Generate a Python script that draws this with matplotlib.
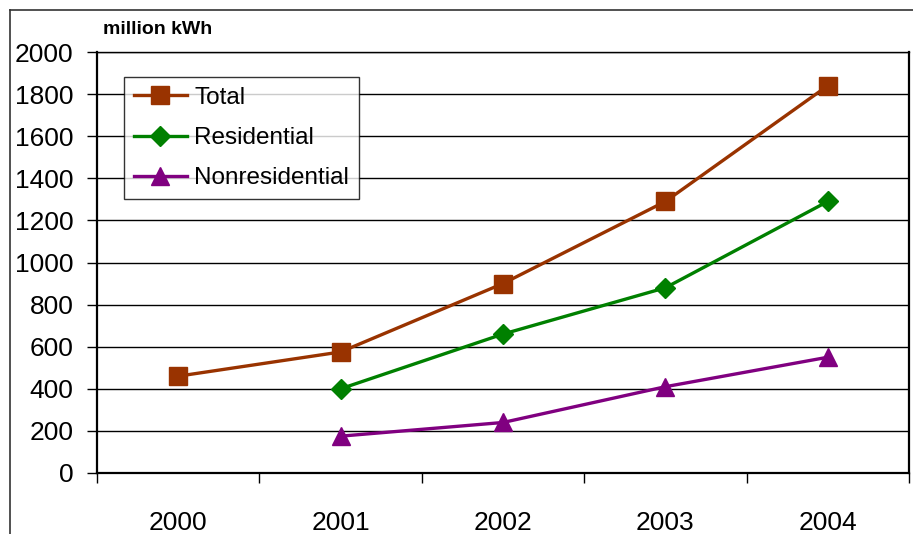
import numpy as np
import matplotlib
matplotlib.use('Agg')
import matplotlib.pyplot as plt
from matplotlib.lines import Line2D

plt.rcParams['font.family'] = ['Liberation Sans', 'DejaVu Sans']

# ─── DONNÉES ──────────────────────────────────────────────────────────────────
years = ['2000', '2001', '2002', '2003', '2004']
total = [460, 575, 900, 1290, 1840]
residential = [None, 400, 660, 880, 1290]
nonresidential = [None, 175, 240, 410, 550]

series = [
    ('Total', total, '#993300', 's', 13),
    ('Residential', residential, '#008000', 'D', 10),
    ('Nonresidential', nonresidential, '#800080', '^', 13),
]

# ─── FIGURE ───────────────────────────────────────────────────────────────────
fig = plt.figure(figsize=(9.13, 5.34), dpi=100)
ax = fig.add_axes([97 / 913, 1 - 473 / 534, 812 / 913, 421 / 534])

x = np.arange(len(years))
for name, vals, color, marker, ms in series:
    v = np.array([np.nan if a is None else a for a in vals], dtype=float)
    ax.plot(x, v, color=color, lw=2.4, marker=marker, markersize=ms,
            markerfacecolor=color, markeredgecolor=color, label=name,
            zorder=3)

ax.set_xlim(-0.5, len(years) - 0.5)
ax.set_ylim(0, 2000)
ax.set_yticks(np.arange(0, 2001, 200))
ax.yaxis.grid(True, color='black', lw=1.0)
ax.set_axisbelow(True)

ax.set_xticks(x)
ax.set_xticklabels(years)
ax.set_xticks(np.arange(-0.5, len(years), 1.0), minor=True)
ax.tick_params(axis='x', which='major', length=0, pad=27, labelsize=19)
ax.tick_params(axis='x', which='minor', length=7, width=1.0, direction='out')
ax.tick_params(axis='y', length=7, width=1.0, direction='out', pad=10,
               labelsize=19)

for side in ['left', 'bottom', 'right']:
    ax.spines[side].set_linewidth(1.6)
    ax.spines[side].set_color('black')
ax.spines['top'].set_linewidth(1.0)
ax.spines['top'].set_color('black')

leg = ax.legend(loc='upper left', bbox_to_anchor=(0.033, 0.94), fontsize=17.5,
                frameon=True, fancybox=False, edgecolor='black',
                borderpad=0.4, labelspacing=0.75, handlelength=2.2,
                handletextpad=0.3, borderaxespad=0)
leg.get_frame().set_linewidth(1.0)

fig.text(103 / 913, 1 - 29 / 534, 'million kWh', fontsize=14,
         fontweight='bold', ha='left', va='center')

# cadre extérieur (coupé à droite et en bas)
fig.add_artist(Line2D([10 / 913, 1.0], [1 - 10 / 534] * 2, color='#333333',
                      lw=1.2, transform=fig.transFigure))
fig.add_artist(Line2D([10 / 913] * 2, [0, 1 - 10 / 534], color='#333333',
                      lw=1.2, transform=fig.transFigure))

fig.savefig('out.png', dpi=100)
